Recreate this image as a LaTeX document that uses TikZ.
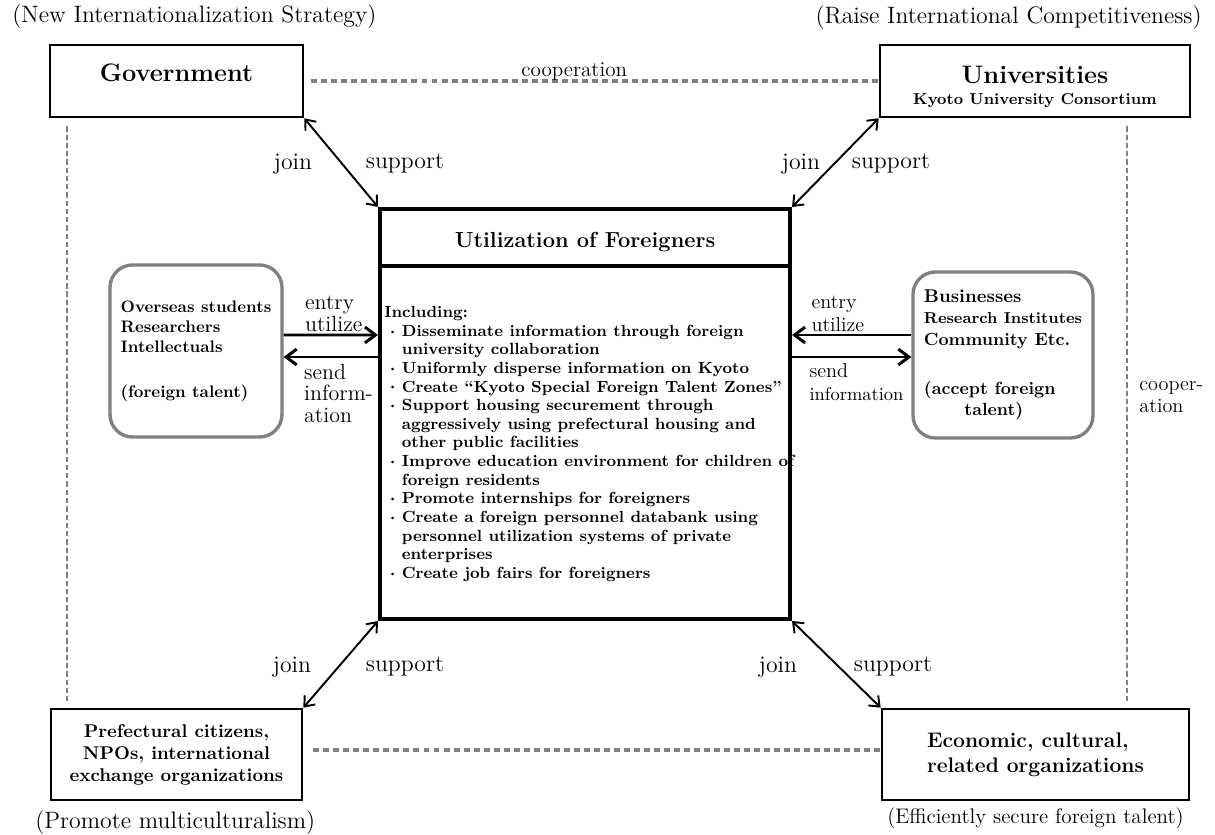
\documentclass[tikz,border=0pt]{standalone}
\usepackage{graphicx}
\usepackage{tikz}
\usetikzlibrary{arrows.meta,positioning,calc}

\newcommand{\dotitem}{\makebox[10pt][l]{\hspace{2.5pt}\raisebox{0.3ex}{\scalebox{0.55}{\textbullet}}}}
\newcommand{\hangline}{\hspace*{10pt}}

\begin{document}
\begin{tikzpicture}[
    font=\normalsize,
    orgbox/.style={rectangle, draw, line width=1.5pt, minimum height=1.44cm, align=center, font=\bfseries},
    talentbox/.style={rectangle, draw=gray, rounded corners=0.45cm, line width=1.9pt, align=left, font=\bfseries\fontsize{9.5}{11.5}\selectfont},
    coop/.style={draw=gray, line width=1.9pt, dash pattern=on 3.4pt off 2.3pt},
    coopv/.style={draw=gray, line width=1.1pt, dash pattern=on 3pt off 1.7pt},
    link/.style={{Straight Barb[length=5pt,width=8pt]}-{Straight Barb[length=5pt,width=8pt]}, line width=1.1pt},
    flow/.style={-{Straight Barb[length=6pt,width=9pt]}, line width=1.7pt},
    word/.style={font=\fontsize{13.5}{16}\selectfont, inner sep=0pt},
    side/.style={font=\fontsize{12.5}{12.5}\selectfont, align=left, inner sep=0pt},
    sider/.style={font=\fontsize{11.5}{13}\selectfont, align=left, inner sep=0pt},
    aim/.style={font=\fontsize{13.5}{16}\selectfont, inner sep=0pt}
]
    \useasboundingbox (0,0) rectangle (24.3,16.68);

    \node[orgbox, minimum width=5.06cm] (gov) at (3.53,15.06) {\Large Government\\[-2pt]\mbox{}};
    \node[orgbox, minimum width=6.2cm] (univ) at (20.70,15.06) {\Large\rule{0pt}{17pt}Universities\\[0pt]{\fontsize{9}{11}\selectfont Kyoto University Consortium}};
    \node[orgbox, minimum width=5.02cm, minimum height=1.82cm, font=\bfseries\fontsize{10.5}{12.5}\selectfont] (civic) at (3.53,1.59) {Prefectural citizens,\\NPOs, international\\exchange organizations};
    \node[orgbox, minimum width=6.14cm, minimum height=1.82cm, align=left, font=\bfseries\fontsize{12}{14}\selectfont] (econ) at (20.71,1.59) {Economic, cultural,\\related organizations};

    \node[draw, line width=2.3pt, minimum width=8.2cm, minimum height=8.2cm] (util) at (11.70,8.40) {};
    \node[font=\bfseries\fontsize{12.4}{15}\selectfont] (head) at ($(util.north)+(0,-0.7)$) {Utilization of Foreigners};
    \draw[line width=1.9pt] ([yshift=-1.18cm]util.north west) -- ([yshift=-1.18cm]util.north east);
    \node[anchor=north west, align=left, inner sep=0pt, font=\bfseries\fontsize{9.2}{10.6}\selectfont] (plan) at ($(util.north west)+(0.12,-1.98)$) {Including:\\
        \dotitem Disseminate information through foreign\\
        \hangline university collaboration\\
        \dotitem Uniformly disperse information on Kyoto\\
        \dotitem Create “Kyoto Special Foreign Talent Zones”\\
        \dotitem Support housing securement through\\
        \hangline aggressively using prefectural housing and\\
        \hangline other public facilities\\
        \dotitem Improve education environment for children of\\
        \hangline foreign residents\\
        \dotitem Promote internships for foreigners\\
        \dotitem Create a foreign personnel databank using\\
        \hangline personnel utilization systems of private\\
        \hangline enterprises\\
        \dotitem Create job fairs for foreigners};

    \node[talentbox, minimum width=3.44cm, minimum height=3.44cm] (abroad) at (3.92,9.66) {Overseas students\\Researchers\\Intellectuals\\[14pt](foreign talent)};
    \node[talentbox, minimum width=3.6cm, minimum height=3.32cm, font=\bfseries\fontsize{10}{12}\selectfont] (biz) at (20.06,9.58) {{\fontsize{10.5}{12}\selectfont Businesses}\\{\fontsize{9}{11}\selectfont Research Institutes}\\Community Etc.\\[16pt](accept foreign\\\hspace*{2.3em}talent)};

    \draw[link] (gov.south east) -- (util.north west);
    \draw[link] (univ.south west) -- (util.north east);
    \draw[link] (util.south west) -- (civic.north east);
    \draw[link] (util.south east) -- (econ.north west);

    \node[word] (join1) at (5.86,13.4) {join};
    \node[word] (sup1) at (8.1,13.4) {support};
    \node[word] (join2) at (16.02,13.4) {join};
    \node[word] (sup2) at (17.82,13.4) {support};
    \node[word] (join3) at (5.84,3.34) {join};
    \node[word] (sup3) at (8.1,3.34) {support};
    \node[word] (join4) at (15.56,3.34) {join};
    \node[word] (sup4) at (17.86,3.34) {support};

    \draw[flow] ([yshift=0.32cm]abroad.east) -- ($(abroad.east -| util.west)+(0,0.32)$)
        node[pos=0, anchor=south west, xshift=0.4cm, yshift=1pt, side] (entry1) {entry\\utilize};
    \draw[flow] ($(abroad.east -| util.west)+(0,-0.12)$) -- ([yshift=-0.12cm]abroad.east)
        node[pos=1, anchor=north west, xshift=0.38cm, yshift=-3pt, side] (send1) {send\\inform-\\ation};
    \draw[flow] ([yshift=0.4cm]biz.west) -- ($(biz.west -| util.east)+(0,0.4)$)
        node[pos=1, anchor=south west, xshift=0.36cm, yshift=1pt, sider] (entry2) {entry\\utilize};
    \draw[flow] ($(biz.west -| util.east)+(0,-0.04)$) -- ([yshift=-0.04cm]biz.west)
        node[pos=0, anchor=north west, xshift=0.32cm, yshift=-3pt, sider] (send2) {send\\{\fontsize{10.5}{13}\selectfont information}};

    \draw[coop, shorten <=0.14cm] (gov.east) -- (univ.west)
        node[pos=0.47, above=-1pt, inner sep=0pt, font=\fontsize{12}{14}\selectfont] (coop1) {cooperation};
    \draw[coop, shorten <=0.2cm] ([yshift=0.09cm]civic.east) -- ([yshift=0.09cm]econ.west);
    \draw[coopv] ($(gov.south west)+(0.36,-0.16)$) -- ($(gov.south west |- civic.north)+(0.36,0.12)$);
    \draw[coopv] ($(univ.south east)+(-1.28,-0.16)$) -- ($(univ.south east |- econ.north)+(-1.28,0.12)$)
        node[pos=0.47, right=3pt, align=left, font=\fontsize{11.5}{12.5}\selectfont] (coop2) {cooper-\\ation};

    \node[aim, anchor=west] (aimgov) at (0.24,16.34) {(New Internationalization Strategy)};
    \node[aim, anchor=east] (aimuniv) at (24.04,16.32) {(Raise International Competitiveness)};
    \node[aim, anchor=west] (aimcivic) at (0.7,0.22) {(Promote multiculturalism)};
    \node[aim, anchor=east, font=\fontsize{12}{14}\selectfont] (aimecon) at (23.68,0.32) {(Efficiently secure foreign talent)};
\end{tikzpicture}
\end{document}
